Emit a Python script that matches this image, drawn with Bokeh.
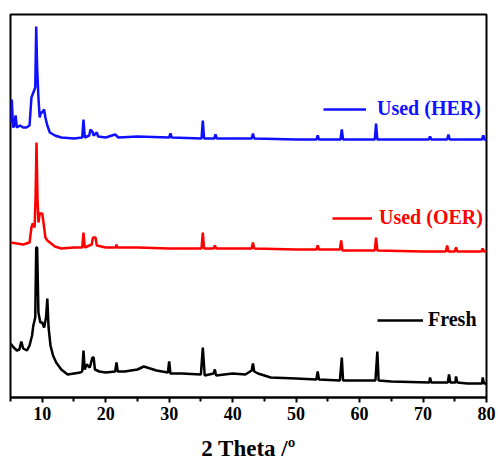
from bokeh.plotting import figure
from bokeh.models import Legend, LegendItem, FixedTicker, Range1d
from bokeh.embed import file_html
from bokeh.resources import INLINE

# 2 Theta (deg) and intensity (a.u., traces already offset vertically)
fresh_x = [5.0, 5.5, 6.0, 6.4, 6.7, 7.0, 7.6, 8.0, 8.4, 8.6, 8.9, 9.05, 9.2, 9.4, 9.7, 10.0, 10.3, 10.6,
           10.8, 11.0, 11.3, 11.7, 12.2, 13.0, 14.0, 15.0, 16.0, 16.3, 16.5, 16.7, 17.0, 17.5, 17.9, 18.1,
           18.3, 19.0, 20.0, 21.5, 21.7, 21.9, 23.0, 25.0, 26.0, 27.0, 28.0, 29.8, 30.0, 30.2, 32.0, 35.0,
           35.3, 35.6, 37.0, 37.2, 37.4, 40.0, 42.0, 43.0, 43.2, 43.4, 44.0, 46.0, 50.0, 53.2, 53.4, 53.6,
           56.9, 57.2, 57.4, 60.0, 62.5, 62.8, 63.0, 65.0, 71.0, 71.1, 71.3, 73.9, 74.1, 74.3, 75.1, 75.2,
           75.4, 77.0, 79.3, 79.4, 79.6, 80.0]
fresh_y = [54, 50, 47, 48, 56, 49, 47, 52, 62, 72, 80, 150, 150, 85, 75, 75, 70, 80,
           99, 70, 52, 42, 35, 28, 23, 24, 25, 26, 47, 28, 33, 30, 40, 40,
           28, 26, 25, 26, 35, 26, 26, 28, 31, 29, 27, 25, 36, 24, 24, 23,
           50, 22, 24, 28, 22, 24, 23, 27, 34, 26, 24, 20, 19, 18, 26, 18,
           17, 40, 17, 17, 17, 46, 17, 16, 15, 20, 15, 15, 23, 15, 15, 21,
           15, 14, 14, 20, 14, 14]

oer_x = [5.0, 6.0, 7.0, 8.0, 8.3, 8.5, 8.8, 8.95, 9.1, 9.25, 9.4, 9.6, 10.0, 10.2, 10.5, 10.8, 11.2,
         12.0, 13.0, 15.0, 16.3, 16.5, 16.7, 17.8, 18.0, 18.4, 18.6, 20.0, 21.6, 21.7, 21.8, 25.0, 30.0,
         35.1, 35.3, 35.5, 37.0, 37.2, 37.4, 40.0, 43.0, 43.2, 43.4, 50.0, 53.2, 53.4, 53.6, 56.9, 57.1,
         57.3, 62.4, 62.6, 62.8, 70.0, 73.6, 73.8, 74.0, 75.0, 75.2, 75.4, 79.2, 79.4, 79.6, 80.0]
oer_y = [155, 154, 153, 155, 170, 174, 170, 200, 255, 200, 175, 184, 184, 175, 160, 157, 155,
         151, 149, 150, 150, 165, 150, 153, 160, 160, 152, 150, 150, 153, 150, 150, 149,
         149, 165, 149, 149, 152, 149, 149, 149, 155, 149, 148, 148, 152, 148, 148, 157,
         147, 147, 160, 147, 146, 146, 152, 146, 146, 150, 146, 146, 149, 146, 146]

her_x = [5.0, 5.2, 5.4, 5.6, 5.8, 6.0, 6.5, 7.0, 7.5, 8.0, 8.3, 8.6, 8.9, 9.05, 9.2, 9.4, 9.6, 9.8,
         10.0, 10.3, 10.5, 10.8, 11.2, 12.0, 13.0, 15.0, 16.3, 16.5, 16.7, 17.4, 17.6, 17.9, 18.1, 18.6,
         18.8, 20.0, 21.5, 22.0, 25.0, 30.0, 30.2, 30.4, 35.1, 35.3, 35.5, 37.1, 37.3, 37.5, 40.0, 43.0,
         43.2, 43.4, 50.0, 53.2, 53.4, 53.6, 57.0, 57.2, 57.4, 62.4, 62.6, 62.8, 70.0, 70.9, 71.1, 71.3,
         73.8, 74.0, 74.2, 79.3, 79.5, 79.7, 80.0]
her_y = [275, 298, 270, 272, 282, 270, 272, 270, 270, 272, 300, 305, 310, 371, 330, 300, 280, 285,
         285, 288, 280, 272, 265, 262, 260, 259, 260, 278, 260, 262, 268, 266, 262, 265,
         261, 260, 263, 260, 261, 260, 264, 260, 259, 277, 259, 259, 263, 259, 259, 259,
         264, 259, 258, 258, 262, 258, 258, 268, 258, 258, 274, 258, 258, 258, 261, 258,
         258, 263, 258, 258, 262, 258, 257]

series_names = ["Used (HER)", "Used (OER)", "Fresh"]
series_colors = ["#1010ff", "#ff0000", "#000000"]
x_ticks = [10, 20, 30, 40, 50, 60, 70, 80]
x_minor = [5, 15, 25, 35, 45, 55, 65, 75]
x_label = "2 Theta /º"

FONT = "Liberation Serif"

p = figure(frame_width=476, frame_height=383, output_backend="svg", toolbar_location=None,
           x_range=Range1d(5, 80), y_range=Range1d(0, 383), y_axis_location=None,
           min_border_left=10, min_border_right=10, min_border_top=14, min_border_bottom=0)
p.xgrid.visible = False
p.ygrid.visible = False
p.outline_line_color = "black"
p.outline_line_width = 2
p.background_fill_color = "white"
p.border_fill_color = "white"

xa = p.xaxis[0]
xa.ticker = FixedTicker(ticks=x_ticks, minor_ticks=x_minor)
xa.axis_line_width = 2
xa.major_tick_line_width = 2
xa.minor_tick_line_width = 2
xa.major_tick_in = 0
xa.major_tick_out = 5
xa.minor_tick_in = 0
xa.minor_tick_out = 4
xa.major_label_text_font = FONT
xa.major_label_text_font_style = "bold"
xa.major_label_text_font_size = "18px"
xa.major_label_text_color = "black"
xa.major_label_standoff = 4
xa.axis_label = x_label
xa.axis_label_text_font = FONT
xa.axis_label_text_font_style = "bold"
xa.axis_label_text_font_size = "23px"
xa.axis_label_text_color = "black"
xa.axis_label_standoff = 13

data = [(her_x, her_y), (oer_x, oer_y), (fresh_x, fresh_y)]
renderers = []
for (xs, ys), c in zip(data, series_colors):
    r = p.line(xs, ys, line_color=c, line_width=2.5)
    renderers.append(r)

# one legend per trace, each placed next to its trace
leg_pos = [(313, 277), (322, 168), (367, 66)]
leg_glyph_w = [43, 40, 46]
leg_standoff = [11, 7, 5]
for name, r, c, pos, gw, so in zip(series_names, renderers, series_colors, leg_pos, leg_glyph_w, leg_standoff):
    lg = Legend(items=[LegendItem(label=name, renderers=[r])], location=pos,
                padding=0, margin=0, spacing=0, glyph_width=gw, glyph_height=20,
                label_height=20, label_standoff=so, label_text_font=FONT,
                label_text_font_style="bold", label_text_font_size="20px",
                label_text_color=c, background_fill_alpha=0, border_line_alpha=0)
    p.add_layout(lg, "center")

open("out.html", "w").write(file_html(p, INLINE))
